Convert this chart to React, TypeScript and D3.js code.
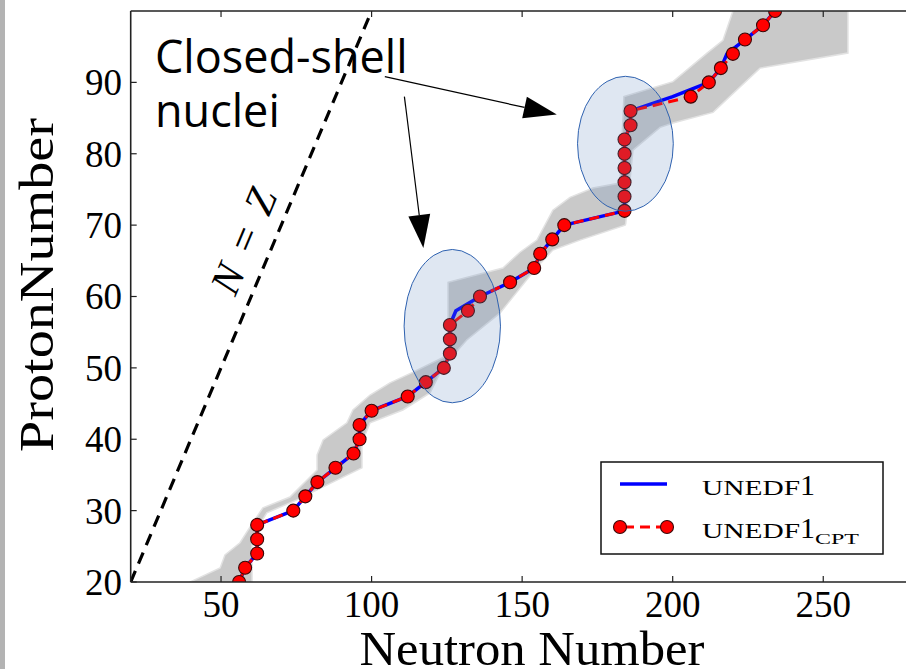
import * as d3 from "d3";

// proton numbers (even Z) for both calculations
const protonZ = [20, 22, 24, 26, 28, 30, 32, 34, 36, 38, 40, 42, 44, 46, 48, 50, 52, 54, 56, 58, 60, 62, 64, 66, 68, 70, 72, 74, 76, 78, 80, 82, 84, 86, 88, 90, 92, 94, 96, 98, 100];
// neutron number of the drip line, UNEDF1_CPT (red points)
const cptN = [56, 58, 62, 62, 62, 74, 78, 82, 88, 94, 96, 96, 100, 112, 118, 124, 126, 126, 126, 132, 136, 146, 154, 156, 160, 164, 184, 184, 184, 184, 184, 184, 186, 186, 206, 212, 216, 220, 224, 230, 234];
// neutron number of the drip line, UNEDF1 (blue line)
const unedf1N = [56, 58, 62, 62, 62, 74, 78, 82, 88, 94, 96, 96, 100, 112, 118, 124, 126, 126, 126, 128, 136, 146, 154, 156, 160, 164, 184, 184, 184, 184, 184, 184, 186, 186, 200, 212, 216, 218, 224, 230, 234];

// grey uncertainty band
const bandUpperN = [38, 39.7, 49.7, 51.3, 56.3, 59.6, 63.9, 72.9, 81.9, 81.9, 83.9, 91.8, 93.8, 99.5, 106.1, 113.8, 125.4, 125.4, 143.6, 149.3, 154.9, 160.2, 165.9, 173.5, 182.5, 183.8, 200.1, 211.4, 216.7, 220, 220.5];
const bandUpperZ = [19, 20, 21.96, 23.8, 25.5, 27.7, 30.4, 31.9, 35.7, 37.8, 39.9, 42.3, 44.1, 46.2, 47.9, 49.4, 51.8, 62.0, 64.0, 66.2, 67.9, 72.1, 73.9, 75.2, 75.9, 88.0, 90.1, 94.1, 95.9, 100, 102];
const bandLowerN = [60.3, 60.3, 60.3, 65.2, 75.2, 81.9, 90.5, 96.8, 96.8, 99.5, 110.4, 119.4, 123.7, 131.6, 142.7, 154.9, 160.2, 169.2, 184.2, 184.4, 186.8, 195.8, 200.1, 213.4, 229, 258.2, 258.2];
const bandLowerZ = [19, 20, 26.3, 29.7, 31.5, 32.9, 34.7, 36, 39.5, 42.3, 44.1, 46.5, 50.1, 53.9, 57.7, 64.1, 66.5, 67.9, 70, 70.2, 80.5, 83.7, 84.3, 85.8, 92, 94.1, 102];

// closed-shell ellipses: centre N, centre Z, half-width (N), half-height (Z)
const shellN = [126.8, 184.3];
const shellZ = [55.85, 81.4];
const shellRN = [16.0, 15.9];
const shellRZ = [10.74, 9.45];

// annotation arrows: start and tip in (N, Z)
const arrowStartN = [104.4, 110.9];
const arrowStartZ = [90.8, 88.0];
const arrowTipN = [161.5, 117.2];
const arrowTipZ = [85.5, 66.8];

const xTicks = [50, 100, 150, 200, 250];
const yTicks = [20, 30, 40, 50, 60, 70, 80, 90];

const W = 906;
const H = 669;
const serif = "'Liberation Serif', 'DejaVu Serif', serif";

export default function App() {
  const x = d3.scaleLinear().domain([20, 300]).range([130.7, 973.8]);
  const y = d3.scaleLinear().domain([20, 100]).range([582, 11]);
  const left = x(20);
  const top = y(100);
  const bottom = y(20);

  const line = d3
    .line<[number, number]>()
    .x((d) => x(d[0]))
    .y((d) => y(d[1]));

  const cpt: [number, number][] = protonZ.map((z, i) => [cptN[i], z]);
  const unedf: [number, number][] = protonZ.map((z, i) => [unedf1N[i], z]);

  const band: [number, number][] = [
    ...bandUpperN.map((n, i) => [n, bandUpperZ[i]] as [number, number]),
    ...bandLowerN.map((n, i) => [n, bandLowerZ[i]] as [number, number]).reverse(),
  ];

  const arrows = arrowStartN.map((_, i) => {
    const x0 = x(arrowStartN[i]);
    const y0 = y(arrowStartZ[i]);
    const x1 = x(arrowTipN[i]);
    const y1 = y(arrowTipZ[i]);
    const len = Math.hypot(x1 - x0, y1 - y0);
    const ux = (x1 - x0) / len;
    const uy = (y1 - y0) / len;
    const hl = 33;
    const hw = 11;
    const bx = x1 - ux * hl;
    const by = y1 - uy * hl;
    const head = [
      [x1, y1],
      [bx - uy * hw, by + ux * hw],
      [bx + uy * hw, by - ux * hw],
    ]
      .map((p) => p.join(","))
      .join(" ");
    return { x0, y0, bx, by, head };
  });

  // N = Z guide line angle in pixels
  const angle =
    (Math.atan2(y(100) - y(20), x(100) - x(20)) * 180) / Math.PI;

  return (
    <svg
      width={W}
      height={H}
      style={{ position: "absolute", left: 0, top: 0, background: "#fff" }}
    >
      <defs>
        <clipPath id="plotclip">
          <rect x={left} y={top} width={W - left} height={bottom - top} />
        </clipPath>
      </defs>
      <rect x={0} y={0} width={5} height={H} fill="#b3b3b3" />

      <g clipPath="url(#plotclip)">
        <path
          d={line(band) + "Z"}
          fill="#c9c9c9"
          stroke="#e2e2e2"
          strokeWidth={1.5}
        />
        {/* N = Z */}
        <path
          d={line([[20, 20], [100, 100]]) || ""}
          fill="none"
          stroke="#000"
          strokeWidth={3.2}
          strokeDasharray="12,8"
        />
        <path
          d={line(unedf) || ""}
          fill="none"
          stroke="#0000ff"
          strokeWidth={3.5}
          strokeLinejoin="round"
        />
        <path
          d={line(cpt) || ""}
          fill="none"
          stroke="#ff0000"
          strokeWidth={3}
          strokeDasharray="10,6"
        />
        {cpt.map((d, i) => (
          <circle
            key={i}
            cx={x(d[0])}
            cy={y(d[1])}
            r={6.5}
            fill="#ff0000"
            stroke="#3a0808"
            strokeWidth={1.1}
          />
        ))}
        {shellN.map((n, i) => (
          <ellipse
            key={i}
            cx={x(n)}
            cy={y(shellZ[i])}
            rx={x(n + shellRN[i]) - x(n)}
            ry={y(shellZ[i]) - y(shellZ[i] + shellRZ[i])}
            fill="#5f87be"
            fillOpacity={0.2}
            stroke="#2f62b0"
            strokeWidth={1}
          />
        ))}
      </g>

      {/* frame */}
      <line x1={left} x2={W} y1={top} y2={top} stroke="#222" strokeWidth={1.6} />
      <line x1={left} x2={W} y1={bottom} y2={bottom} stroke="#222" strokeWidth={1.6} />
      <line x1={left} x2={left} y1={top} y2={bottom} stroke="#222" strokeWidth={1.6} />

      {xTicks.map((t) => (
        <g key={t}>
          <line x1={x(t)} x2={x(t)} y1={bottom} y2={bottom - 6} stroke="#222" strokeWidth={1.2} />
          <line x1={x(t)} x2={x(t)} y1={top} y2={top + 6} stroke="#222" strokeWidth={1.2} />
          <text
            x={x(t)}
            y={617}
            textAnchor="middle"
            fontFamily={serif}
            fontSize={37}
          >
            {t}
          </text>
        </g>
      ))}
      {yTicks.map((t) => (
        <g key={t}>
          <line x1={left} x2={left + 6} y1={y(t)} y2={y(t)} stroke="#222" strokeWidth={1.2} />
          <text
            x={122}
            y={y(t)}
            dy="0.35em"
            textAnchor="end"
            fontFamily={serif}
            fontSize={37}
          >
            {t}
          </text>
        </g>
      ))}

      <text
        transform={`translate(53,285) rotate(-90)`}
        textAnchor="middle"
        fontFamily={serif}
        fontSize={49}
        textLength={334}
        lengthAdjust="spacingAndGlyphs"
      >
        ProtonNumber
      </text>
      <text
        x={532}
        y={665}
        textAnchor="middle"
        fontFamily={serif}
        fontSize={48}
        textLength={345}
        lengthAdjust="spacingAndGlyphs"
      >
        Neutron Number
      </text>

      {/* N = Z label */}
      <text
        transform={`translate(${x(57.3)},${y(67.8)}) rotate(${angle})`}
        textAnchor="middle"
        dy="0.35em"
        fontFamily={serif}
        fontSize={42}
        textLength={110}
        lengthAdjust="spacing"
      >
        <tspan fontStyle="italic">N</tspan>
        <tspan> = </tspan>
        <tspan fontStyle="italic">Z</tspan>
      </text>

      {/* annotation */}
      <text x={155} y={73} fontFamily="'Open Sans', 'Noto Sans', sans-serif" fontSize={45}>
        Closed-shell
      </text>
      <text x={155} y={127} fontFamily="'Open Sans', 'Noto Sans', sans-serif" fontSize={45}>
        nuclei
      </text>
      {arrows.map((a, i) => (
        <g key={i}>
          <line x1={a.x0} y1={a.y0} x2={a.bx} y2={a.by} stroke="#000" strokeWidth={1.2} />
          <polygon points={a.head} fill="#000" />
        </g>
      ))}

      {/* legend */}
      <rect x={601} y={462} width={282} height={92} fill="#fff" stroke="#111" strokeWidth={1.5} />
      <line x1={620} x2={667} y1={484} y2={484} stroke="#0000ff" strokeWidth={3.5} />
      <line x1={620} x2={667} y1={527} y2={527} stroke="#ff0000" strokeWidth={3} strokeDasharray="10,6" strokeDashoffset={-4} />
      <circle cx={620} cy={527} r={6.5} fill="#ff0000" stroke="#3a0808" strokeWidth={1.1} />
      <circle cx={667} cy={527} r={6.5} fill="#ff0000" stroke="#3a0808" strokeWidth={1.1} />
      <text x={702} y={495} fontFamily={serif} fontSize={30}>
        <tspan fontSize={21} textLength={98} lengthAdjust="spacingAndGlyphs">UNEDF</tspan>
        <tspan>1</tspan>
      </text>
      <text x={702} y={538} fontFamily={serif} fontSize={30}>
        <tspan fontSize={21} textLength={98} lengthAdjust="spacingAndGlyphs">UNEDF</tspan>
        <tspan>1</tspan>
        <tspan fontSize={15} dy={6} textLength={44} lengthAdjust="spacingAndGlyphs">CPT</tspan>
      </text>
    </svg>
  );
}
